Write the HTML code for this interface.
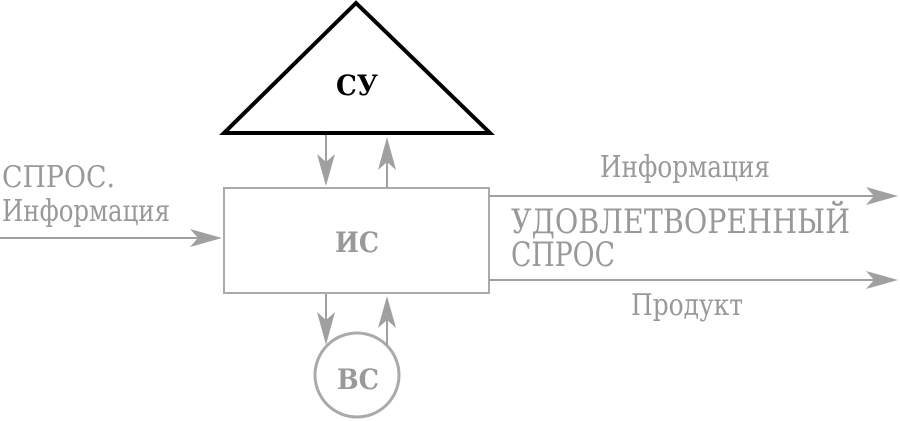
<!DOCTYPE html>
<html><head><meta charset="utf-8"><style>
html,body{margin:0;padding:0;background:#fff;width:900px;height:421px;overflow:hidden}
text{font-family:"DejaVu Serif","Liberation Serif",serif;fill:#999}
</style></head><body>
<svg width="900" height="421" viewBox="0 0 900 421" xmlns="http://www.w3.org/2000/svg">
<polygon points="356,3 224,133 490,133" fill="#fff" stroke="#000" stroke-width="4" stroke-linejoin="miter"/>
<text x="336" y="95" textLength="42" lengthAdjust="spacingAndGlyphs" style="fill:#000;font-weight:bold;font-size:28px">СУ</text>
<rect x="224" y="188" width="265" height="105" fill="none" stroke="#aaa" stroke-width="2"/>
<text x="335" y="252" textLength="44" lengthAdjust="spacingAndGlyphs" style="font-weight:bold;font-size:28px">ИС</text>
<circle cx="357" cy="375" r="42" fill="none" stroke="#aaa" stroke-width="3"/>
<text x="337" y="389" textLength="42" lengthAdjust="spacingAndGlyphs" style="font-weight:bold;font-size:28px">ВС</text>
<g stroke="#a0a0a0" stroke-width="2" fill="none">
<line x1="326" y1="135" x2="326" y2="170"/>
<line x1="387" y1="188" x2="387" y2="160"/>
<line x1="326" y1="294" x2="326" y2="325"/>
<line x1="387" y1="345" x2="387" y2="318"/>
<line x1="0" y1="238" x2="200" y2="238"/>
<line x1="489" y1="196" x2="875" y2="196"/>
<line x1="489" y1="280" x2="875" y2="280"/>
</g>
<g fill="#a0a0a0">
<polygon points="317,154 326,186 335,154 326,162"/>
<polygon points="378,170 387,137 396,170 387,162"/>
<polygon points="317,312 326,345 335,312 326,320"/>
<polygon points="378,328 387,296 396,328 387,320"/>
<polygon points="190,229 222,238 190,247 198,238"/>
<polygon points="866,187 898,196 866,205 874,196"/>
<polygon points="866,271 898,280 866,289 874,280"/>
</g>
<text x="2" y="187" textLength="113" lengthAdjust="spacingAndGlyphs" style="font-size:30px">СПРОС.</text>
<text x="2" y="221" textLength="168" lengthAdjust="spacingAndGlyphs" style="font-size:30px">Информация</text>
<text x="600" y="177" textLength="170" lengthAdjust="spacingAndGlyphs" style="font-size:30px">Информация</text>
<text x="631" y="315" textLength="112" lengthAdjust="spacingAndGlyphs" style="font-size:30px">Продукт</text>
<text x="511" y="233" textLength="339" lengthAdjust="spacingAndGlyphs" style="font-size:34px">УДОВЛЕТВОРЕННЫЙ</text>
<text x="511" y="266" textLength="104" lengthAdjust="spacingAndGlyphs" style="font-size:34px">СПРОС</text>
</svg>
</body></html>
